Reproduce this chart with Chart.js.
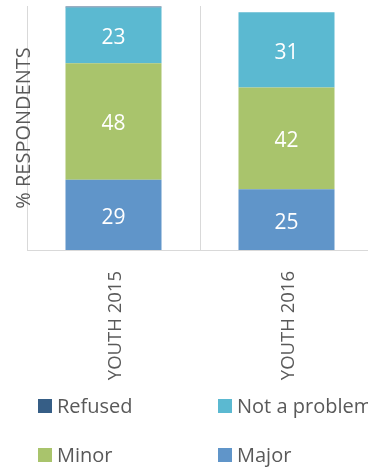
<!DOCTYPE html>
<html>
<head>
<meta charset="utf-8">
<script src="https://cdn.jsdelivr.net/npm/chart.js@4/dist/chart.umd.min.js"></script>
<style>
  html, body { margin: 0; padding: 0; background: #ffffff; overflow: hidden; }
  #wrap { width: 368px; height: 472px; overflow: hidden; position: relative; }
  canvas { display: block; }
</style>
</head>
<body>
<div id="wrap"><canvas id="chart" width="376" height="472"></canvas></div>
<script>
// Survey groups and the share of respondents per answer (%)
const categories = ['YOUTH 2015', 'YOUTH 2016'];
const major = [29, 25];
const minor = [48, 42];
const notAProblem = [23, 31];
const refused = [0.4, 0];

const seriesNames = ['Major', 'Minor', 'Not a problem', 'Refused'];
const seriesColors = ['#6095C9', '#A9C46C', '#5BB9D1', '#365E86'];
const seriesValues = [major, minor, notAProblem, refused];
const seriesShowValues = [true, true, true, false];

const TEXT = '#595959';
const FONT = 'Open Sans';
Chart.defaults.font.family = FONT;

// White value labels centred in each stacked segment
const valueLabels = {
  id: 'valueLabels',
  afterDatasetsDraw(chart) {
    const ctx = chart.ctx;
    ctx.save();
    ctx.fillStyle = '#ffffff';
    ctx.font = '21px "' + FONT + '"';
    ctx.textAlign = 'center';
    ctx.textBaseline = 'middle';
    chart.data.datasets.forEach((ds, i) => {
      if (!ds.showValues) return;
      chart.getDatasetMeta(i).data.forEach((bar, j) => {
        const v = ds.data[j];
        if (!v) return;
        const p = bar.getProps(['x', 'y', 'base'], true);
        ctx.fillText(String(v), p.x, (p.y + p.base) / 2 + 3);
      });
    });
    ctx.restore();
  }
};

// Two-column legend below the axis labels, top series first
const gridLegend = {
  id: 'gridLegend',
  afterDraw(chart, args, opts) {
    const ctx = chart.ctx;
    const items = chart.data.datasets.slice().reverse();
    ctx.save();
    ctx.font = opts.fontSize + 'px "' + FONT + '"';
    ctx.textBaseline = 'middle';
    ctx.textAlign = 'left';
    items.forEach((ds, k) => {
      const col = k % 2;
      const row = Math.floor(k / 2);
      const bx = opts.left + col * opts.colWidth;
      const by = opts.top + row * opts.rowHeight;
      ctx.fillStyle = ds.backgroundColor;
      ctx.fillRect(bx, by, opts.box, opts.box);
      ctx.fillStyle = opts.color;
      ctx.fillText(ds.label, bx + opts.box + 5, by + opts.box / 2 + 1.5);
    });
    ctx.restore();
  }
};

const datasets = seriesNames.map((name, i) => ({
  label: name,
  data: seriesValues[i],
  backgroundColor: seriesColors[i],
  borderWidth: 0,
  barPercentage: 0.555,
  categoryPercentage: 1,
  showValues: seriesShowValues[i]
}));

new Chart(document.getElementById('chart'), {
  type: 'bar',
  data: { labels: categories, datasets: datasets },
  options: {
    responsive: false,
    animation: false,
    devicePixelRatio: 1,
    layout: { padding: { top: 6, right: 3, left: 0, bottom: 0 } },
    plugins: {
      legend: { display: false },
      tooltip: { enabled: false },
      gridLegend: { left: 38, top: 399, colWidth: 180, rowHeight: 49, box: 14, fontSize: 20, color: TEXT }
    },
    scales: {
      x: {
        stacked: true,
        grid: { color: '#D9D9D9', drawTicks: false, offset: true },
        border: { color: '#D9D9D9' },
        ticks: {
          maxRotation: 90,
          minRotation: 90,
          padding: 21,
          labelOffset: 2,
          color: TEXT,
          font: { family: FONT, size: 18.5 }
        },
        afterFit(scale) { scale.height = 222; }
      },
      y: {
        stacked: true,
        min: 0,
        max: 100.6,
        grid: { display: false, drawTicks: false },
        border: { display: false },
        ticks: { display: false },
        title: {
          display: true,
          text: '% RESPONDENTS',
          color: TEXT,
          font: { family: FONT, size: 20, lineHeight: 1.2 },
          padding: { top: 12, bottom: 0 }
        },
        afterFit(scale) { scale.width = 27; }
      }
    }
  },
  plugins: [valueLabels, gridLegend]
});
</script>
</body>
</html>
